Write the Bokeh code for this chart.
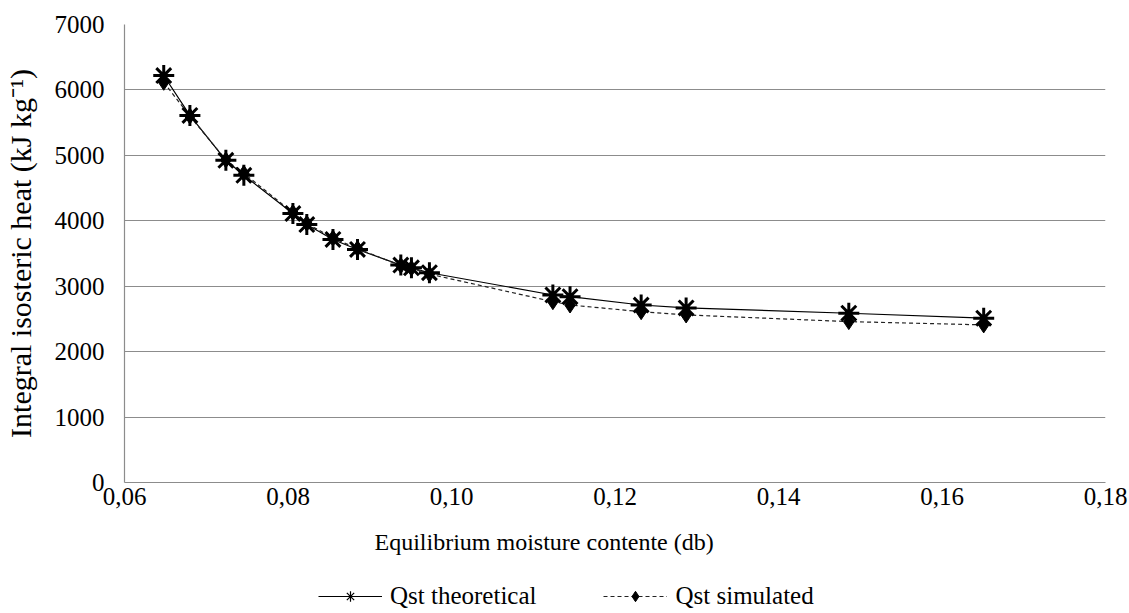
from bokeh.plotting import figure
from bokeh.layouts import column
from bokeh.models import FixedTicker, CustomJSTickFormatter, Legend, LegendItem, ColumnDataSource, Range1d, Title
from bokeh.embed import file_html
from bokeh.resources import INLINE

# Data
moisture_theo = [0.0648, 0.0680, 0.0724, 0.0746, 0.0806, 0.0823, 0.0855, 0.0885, 0.0938, 0.0951, 0.0973,
                 0.1124, 0.1145, 0.1232, 0.1287, 0.1486, 0.1651]
qst_theoretical = [6220, 5610, 4924, 4695, 4111, 3943, 3715, 3562, 3323, 3282, 3206,
                   2866, 2840, 2713, 2668, 2587, 2511]
moisture_sim = moisture_theo
qst_simulated = [6117, 5600, 4930, 4725, 4125, 3960, 3735, 3575, 3315, 3275, 3185,
                 2764, 2713, 2611, 2561, 2459, 2409]

x_ticks = [0.06, 0.08, 0.10, 0.12, 0.14, 0.16, 0.18]
y_ticks = [0, 1000, 2000, 3000, 4000, 5000, 6000, 7000]
series_names = ["Qst theoretical", "Qst simulated"]
x_title = "Equilibrium moisture contente (db)"
y_title = "Integral isosteric heat (kJ kg\u207b\u00b9)"

FONT = "Liberation Serif"

THEO = dict(line_color="black", line_width=1.2)
SIM = dict(line_color="#222222", line_width=1.2, line_dash="4 3")
THEO_M = dict(marker="asterisk", line_color="black")
SIM_M = dict(marker="diamond", fill_color="black", line_color="black")

p = figure(width=1129, height=582, output_backend="svg", toolbar_location=None,
           x_range=(0.06, 0.18), y_range=(0, 7000),
           min_border_left=123, min_border_right=24, min_border_top=24, min_border_bottom=100)

src_t = ColumnDataSource(dict(x=moisture_theo, y=qst_theoretical))
src_s = ColumnDataSource(dict(x=moisture_sim, y=qst_simulated))

p.line("x", "y", source=src_t, **THEO)
p.line("x", "y", source=src_s, **SIM)
p.scatter("x", "y", source=src_s, size=16, **SIM_M)
p.scatter("x", "y", source=src_t, size=21, line_width=3, **THEO_M)

p.outline_line_color = None
p.xgrid.grid_line_color = None
p.ygrid.grid_line_color = "#8c8c8c"
p.ygrid.grid_line_width = 1.2

p.xaxis.ticker = FixedTicker(ticks=x_ticks)
p.yaxis.ticker = FixedTicker(ticks=y_ticks)
p.xaxis.formatter = CustomJSTickFormatter(code="return tick.toFixed(2).replace('.', ',');")

for ax in (p.xaxis[0], p.yaxis[0]):
    ax.axis_line_color = "#8c8c8c"
    ax.axis_line_width = 1.2
    ax.major_tick_out = 0
    ax.major_tick_in = 0
    ax.minor_tick_out = 0
    ax.minor_tick_in = 0
    ax.major_label_text_font = FONT
    ax.major_label_text_font_size = "25px"
    ax.major_label_text_color = "black"
    ax.axis_label_text_font = FONT
    ax.axis_label_text_font_style = "normal"
    ax.axis_label_text_color = "black"

p.yaxis.axis_label = y_title
p.yaxis.axis_label_text_font_size = "30px"
p.xaxis.major_label_standoff = 5
p.yaxis.major_label_standoff = 20
p.yaxis.axis_label_standoff = 15

xt = Title(text=x_title, align="left", offset=250, standoff=38,
           text_font=FONT, text_font_size="24px", text_font_style="normal", text_color="black")
p.add_layout(xt, "below")

# Legend strip below the chart (its glyphs reuse the data sources, kept out of view)
q = figure(width=1129, height=31, output_backend="svg", toolbar_location=None,
           x_range=Range1d(10, 11), y_range=Range1d(0, 1),
           min_border_left=0, min_border_right=0, min_border_top=0, min_border_bottom=0)
q.axis.visible = False
q.grid.visible = False
q.outline_line_color = None
gl_t = q.line("x", "y", source=src_t, **THEO)
gm_t = q.scatter("x", "y", source=src_t, size=17, line_width=1.2, **THEO_M)
gl_s = q.line("x", "y", source=src_s, **SIM)
gm_s = q.scatter("x", "y", source=src_s, size=11, **SIM_M)

legend = Legend(items=[LegendItem(label=series_names[0], renderers=[gl_t, gm_t]),
                       LegendItem(label=series_names[1], renderers=[gl_s, gm_s])],
                location=(194, 3), orientation="horizontal")
legend.label_text_font = FONT
legend.label_text_font_size = "25px"
legend.label_text_color = "black"
legend.glyph_width = 64
legend.glyph_height = 26
legend.spacing = 67
legend.label_standoff = 8
legend.padding = 0
legend.margin = 0
legend.border_line_color = None
legend.background_fill_alpha = 0
q.add_layout(legend, "center")

layout = column(p, q, spacing=0)
open("out.html", "w").write(file_html(layout, INLINE))
